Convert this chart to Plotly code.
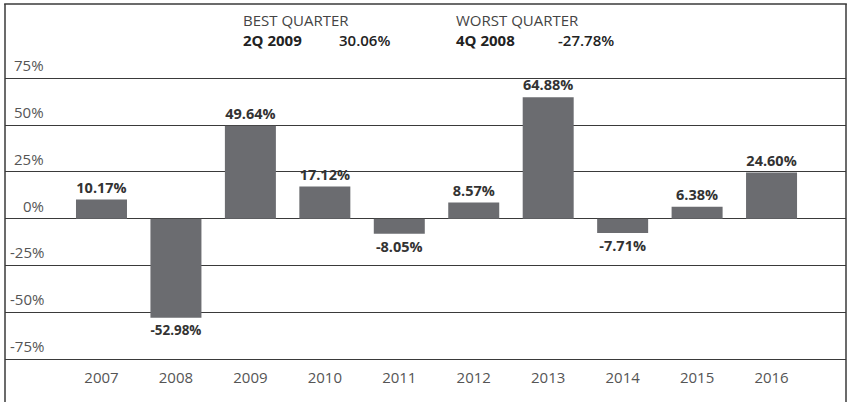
import plotly.graph_objects as go

# Calendar-year returns (%)
years = ["2007", "2008", "2009", "2010", "2011", "2012", "2013", "2014", "2015", "2016"]
returns = [10.17, -52.98, 49.64, 17.12, -8.05, 8.57, 64.88, -7.71, 6.38, 24.60]

# Gridline levels and their labels
y_ticks = [75, 50, 25, 0, -25, -50, -75]
y_tick_labels = ["75%", "50%", "25%", "0%", "-25%", "-50%", "-75%"]

# Best / worst quarter callout
best_quarter = ("2Q 2009", "30.06%")
worst_quarter = ("4Q 2008", "-27.78%")

FONT = "Open Sans"
BAR = "#6b6c70"
LINE = "#3a3a3a"
TEXT = "#333333"
TICK = "#555555"

fig = go.Figure()
fig.add_trace(go.Bar(
    x=list(range(len(years))),
    y=returns,
    width=0.685,
    marker=dict(color=BAR, line=dict(width=0)),
    text=[f"{v:.2f}%" for v in returns],
    textposition="outside",
    textfont=dict(family=FONT, size=14.5, color=TEXT, weight="bold"),
    cliponaxis=False,
    hoverinfo="skip",
))

# Y labels sit just above each gridline, right-aligned near the left edge
annotations = []
for v, lab in zip(y_ticks, y_tick_labels):
    annotations.append(dict(
        x=0.049, xref="paper", y=v, yref="y", text=lab, showarrow=False,
        xanchor="right", yanchor="bottom", yshift=1,
        font=dict(family=FONT, size=15, color=TICK),
    ))

# Header callout (positions given in pixels, converted below)
hdr = dict(family=FONT, size=15, color="#444444")
hdr_bold = dict(family=FONT, size=15, color="#222222", weight="bold")
hdr_val = dict(family=FONT, size=15, color="#222222", weight=600)
header = []
for x0, title, (q, val), xv in [(241, "BEST QUARTER", best_quarter, 337),
                                 (454, "WORST QUARTER", worst_quarter, 556)]:
    header.append(dict(x=x0, y=20, text=title, font=hdr))
    header.append(dict(x=x0, y=40, text=q, font=hdr_bold))
    header.append(dict(x=xv, y=40, text=val, font=hdr_val))

# Plot area spans x 5..846 and y 4..359 in pixels
for h in header:
    annotations.append(dict(
        x=(h["x"] - 5) / 841.0, xref="paper",
        y=(359 - h["y"]) / 355.0, yref="paper",
        text=h["text"], showarrow=False, xanchor="left", yanchor="middle",
        font=h["font"],
    ))

# Frame: top, left and right rules
shapes = [
    dict(type="line", xref="paper", yref="paper", x0=-0.001, x1=1.001, y0=1, y1=1,
         line=dict(color=LINE, width=1.5)),
    dict(type="line", xref="paper", yref="paper", x0=0, x1=0, y0=-0.13, y1=1,
         line=dict(color=LINE, width=1.5)),
    dict(type="line", xref="paper", yref="paper", x0=1, x1=1, y0=-0.13, y1=1,
         line=dict(color=LINE, width=1.5)),
]

fig.update_layout(
    width=849, height=402,
    margin=dict(l=5, r=3, t=4, b=43),
    paper_bgcolor="white", plot_bgcolor="white",
    showlegend=False,
    annotations=annotations,
    shapes=shapes,
    xaxis=dict(
        range=[-1.296, 10.0],
        tickvals=list(range(len(years))),
        ticktext=years,
        ticks="",
        ticklabelstandoff=5,
        tickfont=dict(family=FONT, size=15, color=TICK),
        showgrid=False, zeroline=False,
        showline=True, linecolor=LINE, linewidth=1.2,
        fixedrange=True,
    ),
    yaxis=dict(
        range=[-75, 114.7],
        tickvals=y_ticks,
        showticklabels=False,
        showgrid=True, gridcolor=LINE, gridwidth=1.2,
        zeroline=True, zerolinecolor=LINE, zerolinewidth=1.2,
        fixedrange=True,
    ),
)

fig.write_html("out.html")
